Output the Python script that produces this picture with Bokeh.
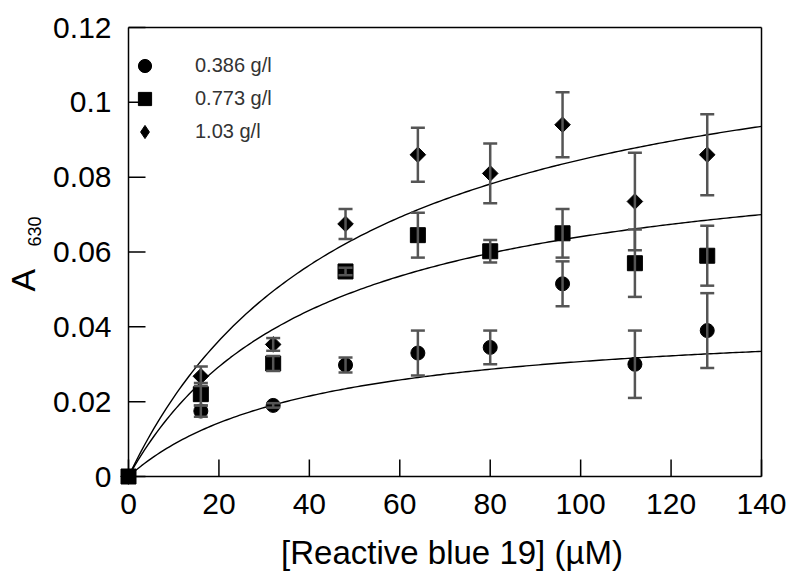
import numpy as np
from bokeh.plotting import figure
from bokeh.models import (ColumnDataSource, Whisker, TeeHead, FixedTicker,
                          Range1d, Legend, LegendItem, Label)
from bokeh.embed import file_html
from bokeh.resources import INLINE

# ---- data ----
conc = [0, 16, 32, 48, 64, 80, 96, 112, 128]

a_0386 = [0, 0.0175, 0.019, 0.0298, 0.033, 0.0345, 0.0515, 0.030, 0.039]
e_0386 = [0, 0.0015, 0.0006, 0.002, 0.006, 0.0045, 0.006, 0.009, 0.010]

a_0773 = [0, 0.0220, 0.0302, 0.0548, 0.0645, 0.0602, 0.065, 0.057, 0.059]
e_0773 = [0, 0.003, 0.002, 0.001, 0.006, 0.003, 0.0065, 0.009, 0.008]

a_103 = [0, 0.0268, 0.0353, 0.0675, 0.086, 0.081, 0.094, 0.0735, 0.086]
e_103 = [0, 0.0026, 0.0017, 0.004, 0.0072, 0.008, 0.0087, 0.013, 0.0108]

series_labels = ["0.386 g/l", "0.773 g/l", "1.03 g/l"]

# hyperbolic (Michaelis-Menten type) fit parameters: Vmax, K
fit_vmax = [0.043, 0.091, 0.127]
fit_k = [40.0, 42.0, 50.0]

x_ticks = [0, 20, 40, 60, 80, 100, 120, 140]
y_ticks = [0, 0.02, 0.04, 0.06, 0.08, 0.1, 0.12]
y_tick_labels = ["0", "0.02", "0.04", "0.06", "0.08", "0.1", "0.12"]

x_title = "[Reactive blue 19] (\u00b5M)"
y_title_main, y_title_sub = "A", "630"

FONT = "Liberation Sans"
X0, X1, Y0, Y1 = 0, 140, 0, 0.12
PW, PH = 633, 449              # pixel size of the data box
LEFT, RIGHT, TOP, BOTTOM = 128, 31, 27, 96
TICK_PX = 17
PXU_X = PW / (X1 - X0)
PXU_Y = PH / (Y1 - Y0)

p = figure(frame_width=LEFT + PW + RIGHT, frame_height=TOP + PH + BOTTOM,
           min_border_left=0, min_border_right=0,
           min_border_top=0, min_border_bottom=0,
           x_range=Range1d(X0 - LEFT / PXU_X, X1 + RIGHT / PXU_X),
           y_range=Range1d(Y0 - BOTTOM / PXU_Y, Y1 + TOP / PXU_Y),
           output_backend="svg", toolbar_location=None,
           background_fill_color="white", border_fill_color="white")

p.xgrid.visible = False
p.ygrid.visible = False
p.outline_line_color = None

for ax in (p.xaxis[0], p.yaxis[0]):
    ax.axis_line_color = "black"
    ax.axis_line_width = 1.5
    ax.major_tick_in = 0
    ax.major_tick_out = 0
    ax.minor_tick_line_color = None
    ax.major_label_text_font = FONT
    ax.major_label_text_font_size = "30px"
    ax.major_label_text_color = "black"
    ax.major_label_standoff = 17

p.xaxis.ticker = FixedTicker(ticks=x_ticks)
p.xaxis.bounds = (X0, X1)
p.xaxis.fixed_location = Y0
p.yaxis.ticker = FixedTicker(ticks=y_ticks)
p.yaxis.bounds = (Y0, Y1)
p.yaxis.fixed_location = X0
p.yaxis.major_label_overrides = {t: s for t, s in zip(y_ticks, y_tick_labels)}

# top and right edges of the plot box
p.segment(x0=[X0, X1], y0=[Y1, Y0], x1=[X1, X1], y1=[Y1, Y1],
          line_color="black", line_width=1.5)

# inward tick marks at the axis tick positions
xt_len = TICK_PX / PXU_Y
yt_len = TICK_PX / PXU_X
p.segment(x0=x_ticks, y0=[Y0] * len(x_ticks), x1=x_ticks, y1=[Y0 + xt_len] * len(x_ticks),
          line_color="black", line_width=1.5)
p.segment(x0=[X0] * len(y_ticks), y0=y_ticks, x1=[X0 + yt_len] * len(y_ticks), y1=y_ticks,
          line_color="black", line_width=1.5)

# fit curves
xs_fit = np.linspace(0, 140, 200)
for vm, k in zip(fit_vmax, fit_k):
    p.line(xs_fit, vm * xs_fit / (k + xs_fit), line_color="black", line_width=1.4)

markers = ["circle", "square", "square"]
angles = [0, 0, np.pi / 4]
sizes = [14, 15, 11]
ys_all = [a_0386, a_0773, a_103]
es_all = [e_0386, e_0773, e_103]
items = []
for mk, ang, sz, ys, es, lab in zip(markers, angles, sizes, ys_all, es_all, series_labels):
    wx = [x for x, e in zip(conc, es) if e > 0]
    wu = [y + e for y, e in zip(ys, es) if e > 0]
    wl = [y - e for y, e in zip(ys, es) if e > 0]
    wsrc = ColumnDataSource(dict(x=wx, upper=wu, lower=wl))
    w = Whisker(source=wsrc, base="x", upper="upper", lower="lower",
                line_color="#555555", line_width=2.5, level="glyph",
                upper_head=TeeHead(size=14, line_color="#555555", line_width=2.5),
                lower_head=TeeHead(size=14, line_color="#555555", line_width=2.5))
    p.add_layout(w)
    src = ColumnDataSource(dict(x=conc, y=ys))
    r = p.scatter("x", "y", source=src, marker=mk, size=sz, angle=ang,
                  fill_color="black", line_color="black")
    if ang:
        # legend-only diamond glyph (legends draw markers unrotated)
        r = p.scatter("x", "y", source=src, marker="diamond", size=sz,
                      fill_color="black", line_color="black", visible=False)
    items.append(LegendItem(label=lab, renderers=[r]))

legend = Legend(items=items, location=(LEFT, BOTTOM + 328), orientation="vertical",
                border_line_color=None, background_fill_alpha=0,
                inactive_fill_alpha=0,
                label_text_font=FONT, label_text_font_size="20px",
                label_text_color="#333333", glyph_width=33, glyph_height=33,
                label_height=33, spacing=0, label_standoff=34,
                padding=0, margin=0)
p.add_layout(legend)

# x title below the axis
p.add_layout(Label(x=X0 + 323.5 / PXU_X, y=Y0 - 76 / PXU_Y, text=x_title,
                   text_font=FONT, text_font_size="33px", text_color="black",
                   text_align="center", text_baseline="alphabetic"))

# rotated y title "A" with subscript "630", left of the y axis
p.add_layout(Label(x=X0 - 87 / PXU_X, y=Y0 + 185 / PXU_Y, text=y_title_main,
                   angle=np.pi / 2, text_font=FONT, text_font_size="34px",
                   text_color="black"))
p.add_layout(Label(x=X0 - 88 / PXU_X, y=Y0 + 230 / PXU_Y, text=y_title_sub,
                   angle=np.pi / 2, text_font=FONT, text_font_size="18px",
                   text_color="black"))

open("out.html", "w").write(file_html(p, INLINE))
